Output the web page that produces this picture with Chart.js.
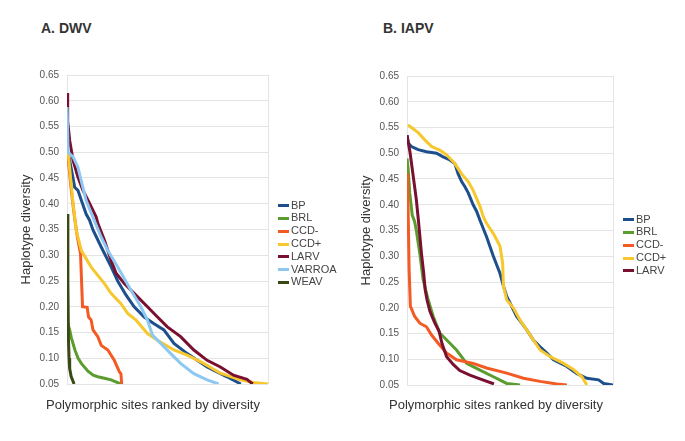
<!DOCTYPE html>
<html>
<head>
<meta charset="utf-8">
<script src="https://cdn.jsdelivr.net/npm/chart.js@4.4.1/dist/chart.umd.min.js"></script>
<style>
  body { margin: 0; background: #fff; font-family: 'Liberation Sans', Arial, sans-serif; }
  #wrap { position: relative; width: 685px; height: 441px; overflow: hidden; }
  canvas { position: absolute; top: 0; }
  .head { position: absolute; top: 20px; font-weight: bold; font-size: 14px; line-height: 17px; color: #333; }
  .xlab { position: absolute; top: 397px; width: 300px; text-align: center; font-size: 13px; line-height: 16px; color: #333; }
  .legend { position: absolute; font-size: 11px; color: #444; }
  .legend div { height: 12.8px; line-height: 12.8px; white-space: nowrap; }
  .legend span { display: inline-block; width: 11px; height: 3px; vertical-align: middle; margin-right: 2px; }
</style>
</head>
<body>
<div id="wrap">
  <div class="head" style="left:41px">A. DWV</div>
  <div class="head" style="left:383px">B. IAPV</div>
  <canvas id="dwv" width="306" height="441" style="left:0"></canvas>
  <canvas id="iapv" width="306" height="441" style="left:342px"></canvas>
  <div class="xlab" style="left:3px">Polymorphic sites ranked by diversity</div>
  <div class="xlab" style="left:346px">Polymorphic sites ranked by diversity</div>
  <div class="legend" id="legDwv" style="left:278px; top:198.6px"></div>
  <div class="legend" id="legIapv" style="left:623px; top:212.6px"></div>
</div>
<script>
// x = rank of the site in % of the longest series, y = haplotype diversity
const yTicks = [0.05, 0.10, 0.15, 0.20, 0.25, 0.30, 0.35, 0.40, 0.45, 0.50, 0.55, 0.60, 0.65];

const colors = {
  "BP": "#1c4f8c",
  "BRL": "#5b9c2e",
  "CCD-": "#f45a24",
  "CCD+": "#f6c82e",
  "LARV": "#7a1030",
  "VARROA": "#8cc8f2",
  "WEAV": "#394913"
};

// A. DWV
const dwvNames = ["BP", "BRL", "CCD-", "CCD+", "LARV", "VARROA", "WEAV"];
const dwvBP = [[0.5,0.50],[2,0.47],[3.8,0.432],[5.4,0.426],[7.1,0.407],[9.5,0.38],[11.2,0.368],[12.9,0.349],[17,0.316],[21.9,0.278],[25.2,0.25],[29.3,0.223],[33.4,0.20],[38.4,0.18],[43.3,0.167],[48.2,0.155],[53.2,0.129],[59.8,0.109],[69.7,0.083],[79.6,0.064],[86.5,0.05]];
const dwvBRL = [[0,0.175],[0.5,0.165],[1.3,0.155],[2.1,0.14],[4,0.115],[5.5,0.10],[7.1,0.09],[10.4,0.075],[13,0.067],[15.3,0.064],[18.6,0.061],[21.9,0.058],[26.8,0.05]];
const dwvCCDm = [[0.5,0.49],[2,0.43],[3.5,0.38],[5.1,0.336],[6.7,0.303],[7.7,0.20],[10.0,0.199],[10.7,0.18],[12,0.174],[12.9,0.155],[15.3,0.142],[17,0.125],[20.3,0.116],[23.5,0.096],[26,0.074],[26.8,0.07],[27.2,0.05]];
const dwvCCDp = [[0.5,0.50],[1.5,0.46],[3.0,0.40],[4.6,0.348],[7.1,0.309],[12.0,0.277],[18.6,0.245],[21.9,0.226],[26.8,0.206],[30.2,0.187],[34.3,0.174],[40,0.148],[45,0.135],[53.2,0.116],[59.8,0.106],[68,0.09],[76.3,0.071],[86.2,0.058],[92.7,0.053],[100,0.05]];
const dwvLARV = [[0,0.615],[0.3,0.56],[1.3,0.523],[3.0,0.484],[5.4,0.452],[7.9,0.426],[10.4,0.407],[14.5,0.374],[15.3,0.362],[18.6,0.329],[21.9,0.29],[24.4,0.265],[28.5,0.245],[33.4,0.226],[40,0.20],[45,0.18],[49.9,0.161],[56.5,0.142],[63.1,0.116],[69.7,0.096],[76.3,0.083],[82.8,0.067],[89.5,0.059],[92.4,0.05]];
const dwvVARROA = [[0,0.588],[0.5,0.50],[3.0,0.491],[5.4,0.471],[9.5,0.406],[13.6,0.367],[17,0.335],[20.3,0.309],[25.2,0.277],[31.8,0.232],[36.7,0.20],[40,0.174],[42.5,0.145],[46.6,0.129],[51.6,0.109],[56.5,0.09],[63.1,0.07],[69.7,0.058],[75.4,0.05]];
const dwvWEAV = [[0,0.38],[0.4,0.25],[0.7,0.135],[1.0,0.10],[1.3,0.08],[2.0,0.065],[3.5,0.05]];

// B. IAPV
const iapvNames = ["BP", "BRL", "CCD-", "CCD+", "LARV"];
const iapvBP = [[0,0.535],[0.5,0.52],[2.1,0.513],[5.4,0.507],[9.4,0.503],[14.3,0.50],[17.5,0.493],[20.8,0.487],[23.2,0.48],[24.8,0.46],[26.5,0.445],[28.1,0.435],[29.7,0.423],[32.1,0.40],[33.8,0.387],[35.4,0.37],[38.6,0.338],[41.9,0.30],[45.1,0.267],[46.8,0.242],[48.4,0.222],[50.8,0.203],[53.2,0.183],[55.7,0.17],[58.1,0.157],[61.4,0.137],[64.6,0.124],[67.9,0.112],[71.1,0.099],[77.6,0.086],[82.5,0.072],[87.3,0.063],[93.0,0.06],[95.5,0.053],[100,0.05]];
const iapvBRL = [[0,0.49],[0.5,0.47],[1.3,0.423],[2.5,0.38],[3.7,0.367],[4.5,0.35],[6.2,0.305],[7.8,0.255],[10.2,0.216],[12.7,0.183],[15.9,0.151],[20.8,0.131],[24,0.118],[28.9,0.092],[35.4,0.079],[41.9,0.066],[48.4,0.053],[54.9,0.05]];
const iapvCCDm = [[0,0.46],[0.3,0.44],[0.6,0.37],[1.0,0.274],[1.6,0.203],[3.7,0.183],[6.2,0.17],[9.4,0.163],[11.9,0.147],[15.1,0.131],[19.2,0.112],[24,0.099],[32.1,0.092],[38.6,0.083],[48.4,0.073],[56.5,0.063],[64.6,0.057],[72.7,0.052],[77.6,0.05]];
const iapvCCDp = [[0.5,0.555],[2.1,0.55],[5.4,0.54],[8.6,0.526],[11.9,0.513],[15.9,0.506],[19.2,0.497],[23.2,0.48],[26.5,0.46],[29.7,0.445],[32.1,0.428],[35.4,0.397],[37.0,0.377],[38.6,0.364],[41.9,0.344],[45.1,0.32],[46.4,0.287],[46.8,0.242],[48.4,0.215],[51.6,0.20],[54.9,0.176],[58.1,0.157],[61.4,0.137],[64.6,0.118],[69.5,0.105],[76.0,0.092],[80.8,0.08],[84.9,0.066],[87.3,0.05]];
const iapvLARV = [[0,0.535],[1.5,0.50],[3.0,0.455],[4.5,0.41],[5.5,0.37],[7.0,0.305],[8.0,0.27],[8.8,0.235],[9.7,0.215],[11.1,0.193],[13.5,0.17],[15.5,0.155],[17,0.13],[19.2,0.105],[22.4,0.09],[25.6,0.078],[30.5,0.069],[35.4,0.062],[42.2,0.052]];

const FONT = "'Liberation Sans', Arial, sans-serif";

function makeChart(id, names, series, pad) {
  const datasets = names.map(function (name, i) {
    return {
      label: name,
      data: series[i].map(function (p) { return { x: p[0], y: p[1] }; }),
      borderColor: colors[name],
      backgroundColor: colors[name],
      borderWidth: 3,
      pointRadius: 0,
      tension: 0,
      order: names.length - i   // later series drawn on top
    };
  });
  return new Chart(document.getElementById(id), {
    type: "line",
    data: { datasets: datasets },
    options: {
      responsive: false,
      animation: false,
      devicePixelRatio: 1,
      layout: { padding: pad },
      plugins: { legend: { display: false }, tooltip: { enabled: false } },
      scales: {
        x: {
          type: "linear",
          min: 0,
          max: 100,
          ticks: { display: false, stepSize: 100 },
          grid: { color: "#e4e4e4", drawTicks: false },
          border: { display: false }
        },
        y: {
          min: yTicks[0],
          max: yTicks[yTicks.length - 1],
          afterBuildTicks: function (axis) {
            axis.ticks = yTicks.map(function (v) { return { value: v }; });
          },
          ticks: {
            padding: 8,
            color: "#555",
            font: { family: FONT, size: 10 },
            callback: function (v) { return Number(v).toFixed(2); }
          },
          grid: { color: "#e4e4e4", drawTicks: false },
          border: { display: false },
          title: {
            display: true,
            text: "Haplotype diversity",
            color: "#333",
            padding: { top: 4, bottom: -3 },
            font: { family: FONT, size: 13 }
          }
        }
      }
    }
  });
}

function makeLegend(id, names) {
  const box = document.getElementById(id);
  names.forEach(function (name) {
    const row = document.createElement("div");
    const sw = document.createElement("span");
    sw.style.background = colors[name];
    row.appendChild(sw);
    row.appendChild(document.createTextNode(name));
    box.appendChild(row);
  });
}

makeChart("dwv", dwvNames, [dwvBP, dwvBRL, dwvCCDm, dwvCCDp, dwvLARV, dwvVARROA, dwvWEAV],
  { left: 15, right: 38, top: 75, bottom: 57 });
makeChart("iapv", iapvNames, [iapvBP, iapvBRL, iapvCCDm, iapvCCDp, iapvLARV],
  { left: 13, right: 35, top: 76, bottom: 56 });
makeLegend("legDwv", dwvNames);
makeLegend("legIapv", iapvNames);
</script>
</body>
</html>
